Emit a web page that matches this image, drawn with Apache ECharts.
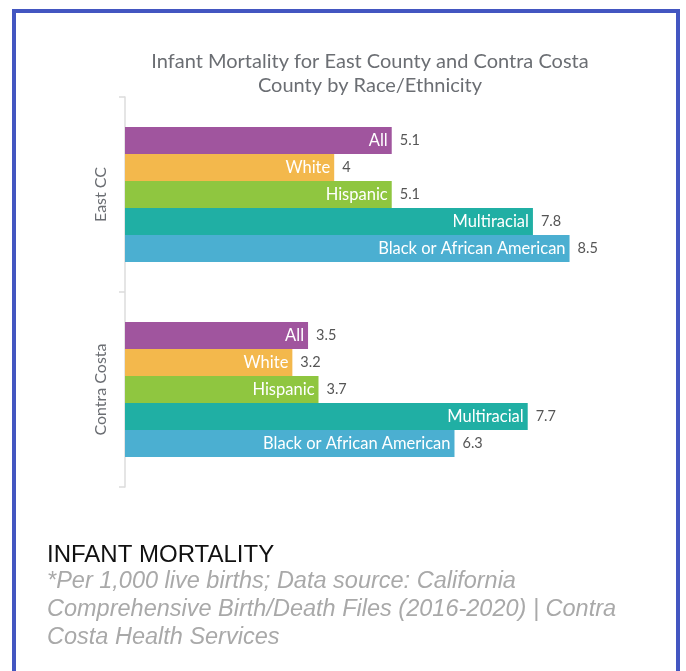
<!DOCTYPE html>
<html>
<head>
<meta charset="utf-8">
<script src="https://cdn.jsdelivr.net/npm/echarts@6/dist/echarts.min.js"></script>
<style>
 html,body{margin:0;padding:0;background:#fff;}
 #main{width:686px;height:671px;}
</style>
</head>
<body>
<div id="main"></div>
<script>
 var regions = ['East CC', 'Contra Costa'];
 var groups = ['All', 'White', 'Hispanic', 'Multiracial', 'Black or African American'];
 var colors = ['#a0559e', '#f3b84c', '#8fc640', '#20afa4', '#4bafd1'];
 // values per group: [East CC, Contra Costa]
 var allVals = [5.1, 3.5];
 var whiteVals = [4, 3.2];
 var hispanicVals = [5.1, 3.7];
 var multiVals = [7.8, 7.7];
 var blackVals = [8.5, 6.3];
 var seriesVals = [allVals, whiteVals, hispanicVals, multiVals, blackVals];

 var dom = document.getElementById('main');
 var myChart = echarts.init(dom);

 var series = [];
 // colored bars with group name inside
 groups.forEach(function (g, i) {
  series.push({
   name: g,
   type: 'bar',
   yAxisIndex: 0,
   barWidth: 27,
   barGap: 0,
   itemStyle: {color: colors[i]},
   label: {
    show: true,
    position: 'insideRight',
    distance: 4,
    formatter: g,
    color: '#fff',
    fontFamily: 'Lato',
    fontSize: 16.5
   },
   data: seriesVals[i]
  });
 });
 // transparent copies on a hidden axis, only for the value labels
 groups.forEach(function (g, i) {
  series.push({
   name: g + ' value',
   type: 'bar',
   yAxisIndex: 1,
   barWidth: 27,
   barGap: 0,
   silent: true,
   itemStyle: {color: 'rgba(0,0,0,0)'},
   label: {
    show: true,
    position: 'right',
    distance: 8,
    color: '#555',
    fontFamily: 'Lato',
    fontSize: 14.5
   },
   data: seriesVals[i]
  });
 });

 var option = {
  animation: false,
  title: {
   text: 'Infant Mortality for East County and Contra Costa\nCounty by Race/Ethnicity',
   left: 365,
   top: 45,
   textAlign: 'center',
   textStyle: {
    fontFamily: 'Lato',
    fontWeight: 'normal',
    fontSize: 20,
    lineHeight: 24,
    color: '#6b6e73'
   }
  },
  grid: {left: 125, top: 97, width: 523, height: 390},
  xAxis: {
   type: 'value',
   min: 0,
   max: 10,
   show: false
  },
  yAxis: [{
   type: 'category',
   inverse: true,
   data: regions,
   axisLine: {lineStyle: {color: '#dcdcdc', width: 1.5}},
   axisTick: {show: true, length: 6, lineStyle: {color: '#dcdcdc', width: 1.5}},
   axisLabel: {
    rotate: 90,
    margin: 16,
    color: '#6b6e73',
    fontFamily: 'Lato',
    fontSize: 16
   }
  }, {
   type: 'category',
   inverse: true,
   data: regions,
   show: false
  }],
  graphic: [{
   type: 'rect',
   shape: {x: 14, y: 11, width: 664, height: 720},
   style: {fill: 'none', stroke: '#4356c1', lineWidth: 4}
  }, {
   type: 'text',
   left: 47,
   top: 543,
   style: {
    text: 'INFANT MORTALITY',
    font: '24px "Liberation Sans", Arial, sans-serif',
    fill: '#111'
   }
  }, {
   type: 'text',
   left: 47,
   top: 568,
   style: {
    text: '*Per 1,000 live births; Data source: California\nComprehensive Birth/Death Files (2016-2020) | Contra\nCosta Health Services',
    font: 'italic 23.5px "Liberation Sans", Arial, sans-serif',
    lineHeight: 27.7,
    fill: '#a9a9a9'
   }
  }],
  series: series
 };
 myChart.setOption(option);
 window.onresize = myChart.resize;
</script>
</body>
</html>
